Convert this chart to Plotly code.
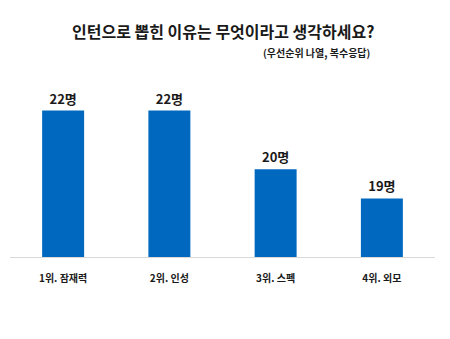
import plotly.graph_objects as go

# Survey: why do you think you were selected as an intern?
categories = ["1위. 잠재력", "2위. 인성", "3위. 스펙", "4위. 외모"]
counts = [22, 22, 20, 19]
value_labels = [f"{v}명" for v in counts]

title_text = "인턴으로 뽑힌 이유는 무엇이라고 생각하세요?"
subtitle_text = "(우선순위 나열, 복수응답)"

FONT = "Noto Sans CJK KR"
BAR_COLOR = "#0068BF"
TEXT_COLOR = "#1a1a1a"

fig = go.Figure(
    go.Bar(
        x=categories,
        y=counts,
        text=value_labels,
        textposition="outside",
        textfont=dict(family=FONT, size=13, color=TEXT_COLOR, weight="bold"),
        cliponaxis=False,
        marker=dict(color=BAR_COLOR, line=dict(width=0)),
        width=0.395,
    )
)

fig.update_layout(
    width=450,
    height=339,
    margin=dict(l=9.5, r=14.8, t=52, b=82),
    paper_bgcolor="white",
    plot_bgcolor="white",
    showlegend=False,
    font=dict(family=FONT, color=TEXT_COLOR),
    annotations=[
        dict(
            text=f"<b>{title_text}</b>",
            xref="paper", yref="paper",
            x=0.5, y=1.0, yshift=21,
            xanchor="center", yanchor="middle",
            showarrow=False,
            font=dict(family=FONT, size=16, color=TEXT_COLOR),
        ),
        dict(
            text=f"<b>{subtitle_text}</b>",
            xref="paper", yref="paper",
            x=(372 - 9.5) / (450 - 9.5 - 14.8), y=1.0, yshift=0,
            xanchor="right", yanchor="middle",
            showarrow=False,
            font=dict(family=FONT, size=10, color=TEXT_COLOR),
        ),
    ],
)

fig.update_xaxes(
    showline=True,
    linecolor="#d9d9d9",
    linewidth=1,
    showgrid=False,
    ticks="",
    ticklabelstandoff=12,
    tickfont=dict(family=FONT, size=10, color=TEXT_COLOR, weight="bold"),
)
fig.update_yaxes(
    range=[17, 24],
    visible=False,
    showgrid=False,
    zeroline=False,
)

fig.write_html("out.html")
